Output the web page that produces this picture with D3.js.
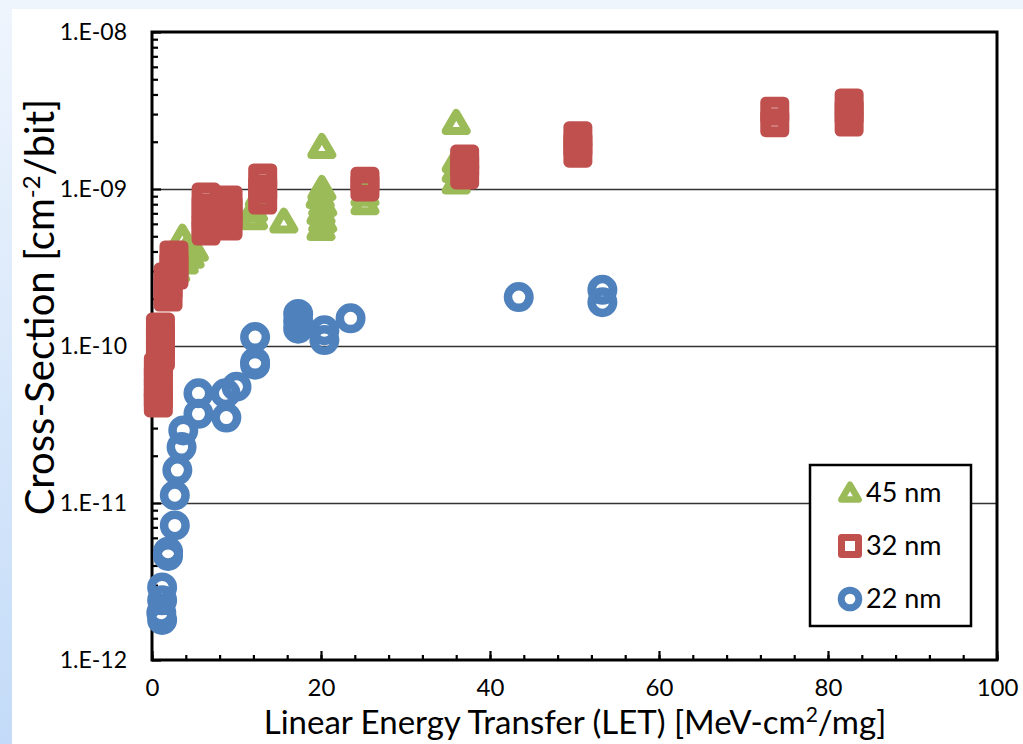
<!DOCTYPE html>
<html>
<head>
<meta charset="utf-8">
<script src="https://cdn.jsdelivr.net/npm/d3@7"></script>
<style>
  body { margin: 0; }
  text { font-family: Lato, "Open Sans", sans-serif; fill: #000; }
</style>
</head>
<body>
<div id="chart"></div>
<script>
// LET [MeV-cm2/mg] and cross-section [cm2/bit]
var let45 = [2.8, 3.6, 3.8, 4.2, 4.5, 5.0, 12.0, 12.0, 12.7, 15.6,
             20.1, 20.1, 19.9, 20.2, 20.0, 20.2, 20.0,
             25.2, 25.2, 36.0, 36.0, 36.0, 36.0];
var cs45 = [3.0e-10, 4.9e-10, 3.4e-10, 4.2e-10, 3.7e-10, 4.1e-10, 7.3e-10, 6.5e-10, 9.0e-10, 6.2e-10,
            1.85e-9, 1.0e-9, 8.89e-10, 7.91e-10, 7.03e-10, 6.25e-10, 5.56e-10,
            9.2e-10, 8.1e-10, 2.63e-9, 1.5e-9, 1.3e-9, 1.1e-9];

var let32 = [2.6, 2.6, 2.6, 1.9, 1.9, 1.9,
             1.0, 1.0, 1.0, 1.0, 0.75, 0.75, 0.75, 0.75, 0.75,
             6.4, 6.4, 6.4, 6.4, 6.4, 9.0, 9.0, 9.0, 9.0, 13.1, 13.1, 13.1,
             25.2, 25.2, 37.0, 37.0, 37.0, 50.4, 50.4, 50.4, 73.7, 73.7, 82.5, 82.5, 82.5];
var cs32 = [3.8e-10, 3.28e-10, 2.83e-10, 2.75e-10, 2.37e-10, 2.05e-10,
            1.32e-10, 1.14e-10, 9.85e-11, 8.5e-11, 7.35e-11, 6.35e-11, 5.48e-11, 4.73e-11, 4.34e-11,
            8.89e-10, 7.57e-10, 6.63e-10, 5.81e-10, 5.4e-10, 8.51e-10, 7.46e-10, 6.53e-10, 5.81e-10,
            1.175e-9, 1.0e-9, 8.51e-10,
            1.12e-9, 1.03e-9, 1.55e-9, 1.4e-9, 1.23e-9, 2.18e-9, 1.91e-9, 1.69e-9,
            3.13e-9, 2.64e-9, 3.53e-9, 3.09e-9, 2.67e-9];

var let22 = [1.2, 1.2, 1.1, 1.2, 1.9, 1.9, 2.7, 2.7, 3.0, 3.5, 3.7,
             5.5, 5.5, 8.8, 8.7, 10.0, 12.2, 12.2, 12.2,
             17.3, 17.3, 17.3, 20.4, 20.4, 23.5, 43.4, 53.3, 53.3];
var cs22 = [2.9e-12, 2.4e-12, 2.0e-12, 1.8e-12, 4.6e-12, 4.9e-12, 7.2e-12, 1.12e-11, 1.62e-11, 2.27e-11, 2.9e-11,
            3.7e-11, 5.0e-11, 3.5e-11, 5.0e-11, 5.5e-11, 7.6e-11, 7.9e-11, 1.14e-10,
            1.6e-10, 1.43e-10, 1.29e-10, 1.26e-10, 1.09e-10, 1.5e-10, 2.05e-10, 2.28e-10, 1.9e-10];

var seriesNames = ['45 nm', '32 nm', '22 nm'];
var xTicks = [0, 20, 40, 60, 80, 100];
var yDecades = [1e-12, 1e-11, 1e-10, 1e-9, 1e-8];

(function() {

  var width = 1023, height = 744;
  var pLeft = 152, pRight = 997, pTop = 32, pBottom = 660;

  var svg = d3.select('#chart').append('svg')
      .attr('width', width)
      .attr('height', height);

  // slide background
  var grad = svg.append('defs').append('linearGradient')
      .attr('id', 'bg').attr('x1', 0).attr('y1', 0).attr('x2', 0).attr('y2', 1);
  grad.append('stop').attr('offset', '0%').attr('stop-color', '#eff5fd');
  grad.append('stop').attr('offset', '100%').attr('stop-color', '#c3dbf8');
  svg.append('rect').attr('width', width).attr('height', height).attr('fill', 'url(#bg)');
  svg.append('rect').attr('x', 12).attr('y', 9).attr('width', width - 12).attr('height', height - 9)
      .attr('fill', '#fff');

  var x = d3.scaleLinear().domain([0, 100]).range([pLeft, pRight]);
  var y = d3.scaleLog().domain([1e-12, 1e-8]).range([pBottom, pTop]);

  // gridlines
  svg.append('g')
      .attr('transform', `translate(${pLeft},0)`)
      .call(d3.axisLeft(y).tickValues([1e-11, 1e-10, 1e-9]).tickSize(-(pRight - pLeft)).tickFormat(''))
      .call(g => g.select('.domain').remove())
      .call(g => g.selectAll('line').attr('stroke', '#333').attr('stroke-width', 1.7));

  // x ticks (inside)
  svg.append('g')
      .attr('transform', `translate(0,${pBottom})`)
      .call(d3.axisBottom(x).tickValues(d3.range(0, 101, 4)).tickSize(-5).tickFormat(''))
      .call(g => g.select('.domain').remove())
      .call(g => g.selectAll('line').attr('stroke', '#000').attr('stroke-width', 2.2));

  svg.append('g')
      .attr('transform', `translate(0,${pBottom})`)
      .call(d3.axisBottom(x).tickValues(xTicks).tickSize(-9).tickPadding(19).tickFormat(d3.format('d')))
      .call(g => g.select('.domain').remove())
      .call(g => g.selectAll('line').attr('stroke', '#000').attr('stroke-width', 2.2))
      .call(g => g.selectAll('text').attr('font-size', 24).attr('font-family', 'Lato').attr('fill', '#000'));

  // y ticks (inside)
  var yMinor = [];
  yDecades.slice(0, 4).forEach(d => d3.range(2, 10).forEach(k => yMinor.push(d * k)));

  svg.append('g')
      .attr('transform', `translate(${pLeft},0)`)
      .call(d3.axisLeft(y).tickValues(yMinor).tickSize(-6).tickFormat(''))
      .call(g => g.select('.domain').remove())
      .call(g => g.selectAll('line').attr('stroke', '#000').attr('stroke-width', 2.2));

  svg.append('g')
      .attr('transform', `translate(${pLeft},0)`)
      .call(d3.axisLeft(y).tickValues(yDecades).tickSize(-9).tickPadding(25)
        .tickFormat(d => '1.E-' + String(-Math.round(Math.log10(d))).padStart(2, '0')))
      .call(g => g.select('.domain').remove())
      .call(g => g.selectAll('line').attr('stroke', '#000').attr('stroke-width', 2.2))
      .call(g => g.selectAll('text').attr('font-size', 23).attr('font-family', 'Lato').attr('fill', '#000'));

  // plot frame
  svg.append('rect')
      .attr('x', pLeft).attr('y', pTop)
      .attr('width', pRight - pLeft).attr('height', pBottom - pTop)
      .attr('fill', 'none').attr('stroke', '#000').attr('stroke-width', 3);

  // markers: thick outline, see-through centre (overlapping points merge into blocks)
  var colors = {'45 nm': '#9bbb59', '32 nm': '#c0504d', '22 nm': '#4f81bd'};

  function drawMarker(sel, name, s, inLegend) {
    var c = colors[name];
    if (name === '45 nm') {
      sel.append('path')
        .attr('d', `M0,${-10 * s}L${10.5 * s},${8 * s}L${-10.5 * s},${8 * s}Z`)
        .attr('fill', 'none').attr('stroke', c).attr('stroke-width', 8 * s)
        .attr('stroke-linejoin', 'round');
    } else if (name === '32 nm') {
      // outer size 29 in the plot, 24 in the legend
      var half = inLegend ? 8.5 : 9, sw = inLegend ? 7 : 11;
      sel.append('rect')
        .attr('x', -half).attr('y', -half).attr('width', 2 * half).attr('height', 2 * half)
        .attr('fill', 'none').attr('stroke', c).attr('stroke-width', sw)
        .attr('stroke-linejoin', 'round');
    } else {
      sel.append('circle').attr('r', 10.75 * s)
        .attr('fill', 'none').attr('stroke', c).attr('stroke-width', 8.5 * s);
    }
  }

  var series = [
    {name: '45 nm', pts: d3.zip(let45, cs45)},
    {name: '32 nm', pts: d3.zip(let32, cs32)},
    {name: '22 nm', pts: d3.zip(let22, cs22)}
  ];

  series.forEach(sr => {
    svg.append('g').selectAll('g')
      .data(sr.pts)
      .enter().append('g')
        .attr('transform', d => `translate(${x(d[0])},${y(d[1])})`)
        .each(function() { drawMarker(d3.select(this), sr.name, 1, false); });
  });

  // legend
  var legend = svg.append('g');
  legend.append('rect')
      .attr('x', 810).attr('y', 465).attr('width', 161).attr('height', 161)
      .attr('fill', '#fff').attr('stroke', '#000').attr('stroke-width', 2.5);

  var legRow = d3.scalePoint().domain(seriesNames).range([493, 599]);
  seriesNames.forEach(n => {
    var item = legend.append('g').attr('transform', `translate(850,${legRow(n)})`);
    drawMarker(item, n, 0.82, true);
    item.append('text')
      .attr('x', 16).attr('dy', '0.35em')
      .attr('font-size', 27)
      .text(n);
  });

  // axis titles
  var xt = svg.append('text')
      .attr('x', (262 + 888) / 2).attr('y', 734)
      .attr('text-anchor', 'middle')
      .attr('font-size', 33);
  xt.append('tspan').text('Linear Energy Transfer (LET) [MeV-cm');
  xt.append('tspan').attr('font-size', 21).attr('baseline-shift', 'super').text('2');
  xt.append('tspan').text('/mg]');

  var yt = svg.append('text')
      .attr('transform', 'translate(54,307) rotate(-90)')
      .attr('text-anchor', 'middle')
      .attr('font-size', 40);
  yt.append('tspan').text('Cross-Section [cm');
  yt.append('tspan').attr('font-size', 24).attr('baseline-shift', 'super').text('-2');
  yt.append('tspan').text('/bit]');
})();
</script>
</body>
</html>
